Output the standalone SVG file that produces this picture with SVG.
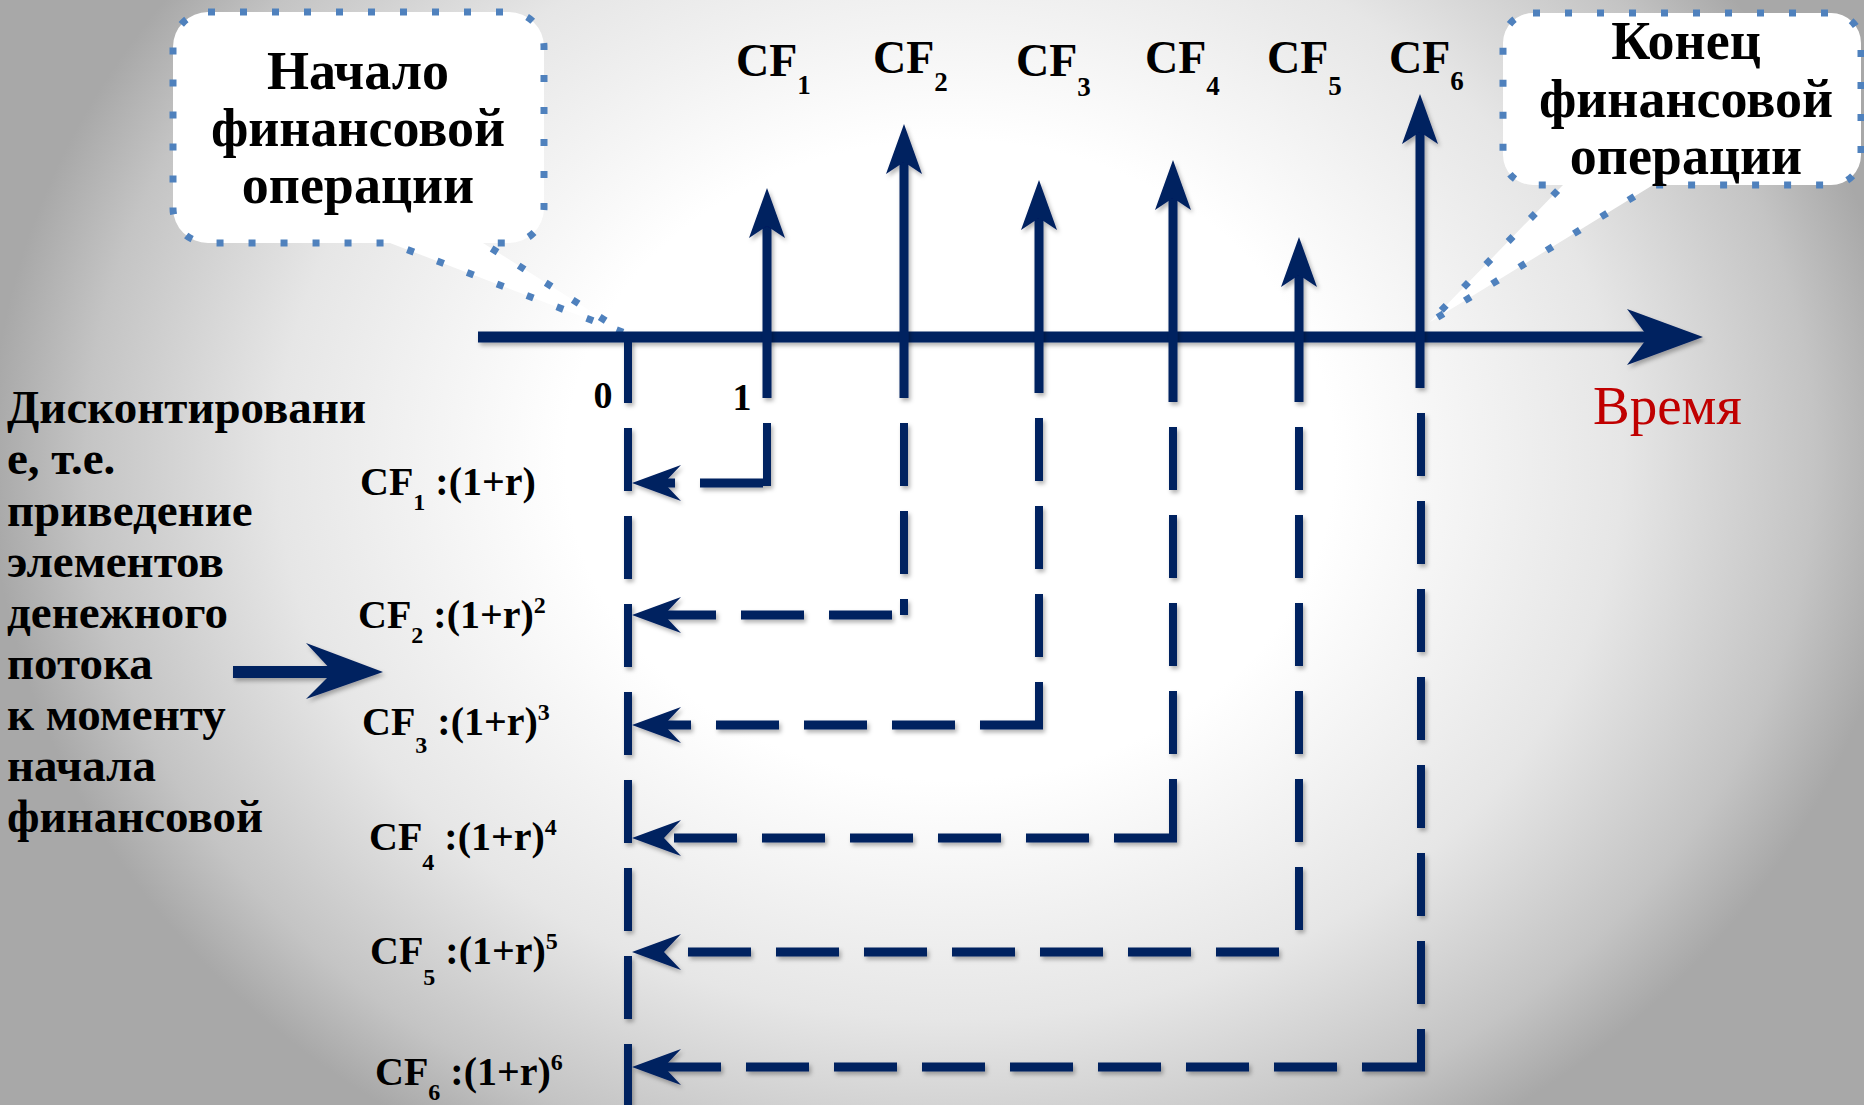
<svg xmlns="http://www.w3.org/2000/svg" width="1864" height="1105" viewBox="0 0 1864 1105">
<defs>
<radialGradient id="bg" gradientUnits="userSpaceOnUse" cx="0" cy="0" r="1" gradientTransform="translate(950,460) scale(960,800)">
<stop offset="0" stop-color="#ffffff"/>
<stop offset="0.4" stop-color="#ffffff"/>
<stop offset="0.7" stop-color="#e6e6e6"/>
<stop offset="0.9" stop-color="#c4c4c4"/>
<stop offset="1" stop-color="#a8a8a8"/>
</radialGradient>
<filter id="sh" filterUnits="userSpaceOnUse" x="0" y="0" width="1864" height="1105">
<feDropShadow dx="2" dy="3" stdDeviation="2" flood-color="#000" flood-opacity="0.3"/>
</filter>
<style>
.t{font-family:"Liberation Serif","DejaVu Serif",serif;font-weight:bold;fill:#000}
.call{fill:#fff;stroke:#4F81BD;stroke-width:7;stroke-dasharray:7 25}
.co{font-size:54px;text-anchor:middle}
.cf{font-size:46px}
.cfs{font-size:27px}
.f{font-size:40px}
.fs{font-size:24px}
.ex{font-size:47px}
.nv{fill:#002060}
.shaft{stroke:#002060;stroke-width:9;fill:none}
.vd{stroke:#002060;stroke-width:8;fill:none;stroke-dasharray:63 25}
.hd{stroke:#002060;stroke-width:9;fill:none;stroke-dasharray:63 25}
</style>
</defs>
<rect width="1864" height="1105" fill="url(#bg)"/>

<g id="callout-start">
<path class="call" d="M208,12 H509 A35,35 0 0 1 544,47 V208 A35,35 0 0 1 509,243 H483 L625,333 L390,243 H208 A35,35 0 0 1 173,208 V47 A35,35 0 0 1 208,12 Z"/>
<text class="t co" x="358" y="89">Начало</text>
<text class="t co" x="358" y="146">финансовой</text>
<text class="t co" x="358" y="203">операции</text>
</g>

<g id="callout-end">
<path class="call" d="M1533,13 H1831 A30,30 0 0 1 1861,43 V155 A30,30 0 0 1 1831,185 H1653 L1430,322 L1563,185 H1533 A30,30 0 0 1 1503,155 V43 A30,30 0 0 1 1533,13 Z"/>
<text class="t co" x="1686" y="59">Конец</text>
<text class="t co" x="1686" y="117">финансовой</text>
<text class="t co" x="1686" y="174">операции</text>
</g>

<g id="axis" filter="url(#sh)">
<line x1="478" y1="337" x2="1660" y2="337" stroke="#002060" stroke-width="11"/>
<polygon class="nv" points="1703,337 1627,309 1648,337 1627,365"/>
</g>
<text id="label-time" x="1593" y="424" font-family="Liberation Serif, DejaVu Serif, serif" font-size="55" fill="#C00000">Время</text>
<text id="label-0" class="t" x="603" y="408" font-size="38" text-anchor="middle">0</text>
<text id="label-1" class="t" x="742" y="410" font-size="38" text-anchor="middle">1</text>

<g id="cf1">
<text class="t cf" x="736" y="76">CF<tspan class="cfs" dy="18">1</tspan></text>
<g filter="url(#sh)"><line class="shaft" x1="767" y1="220" x2="767" y2="398"/><polygon class="nv" points="767,188 749,238 767,226 785,238"/></g>
</g>
<g id="cf2">
<text class="t cf" x="873" y="73">CF<tspan class="cfs" dy="18">2</tspan></text>
<g filter="url(#sh)"><line class="shaft" x1="904" y1="156" x2="904" y2="398"/><polygon class="nv" points="904,124 886,174 904,162 922,174"/></g>
</g>
<g id="cf3">
<text class="t cf" x="1016" y="76">CF<tspan class="cfs" dy="20">3</tspan></text>
<g filter="url(#sh)"><line class="shaft" x1="1039" y1="212" x2="1039" y2="393"/><polygon class="nv" points="1039,180 1021,230 1039,218 1057,230"/></g>
</g>
<g id="cf4">
<text class="t cf" x="1145" y="73">CF<tspan class="cfs" dy="22">4</tspan></text>
<g filter="url(#sh)"><line class="shaft" x1="1173" y1="192" x2="1173" y2="402"/><polygon class="nv" points="1173,160 1155,210 1173,198 1191,210"/></g>
</g>
<g id="cf5">
<text class="t cf" x="1267" y="73">CF<tspan class="cfs" dy="22">5</tspan></text>
<g filter="url(#sh)"><line class="shaft" x1="1299" y1="269" x2="1299" y2="402"/><polygon class="nv" points="1299,237 1281,287 1299,275 1317,287"/></g>
</g>
<g id="cf6">
<text class="t cf" x="1389" y="73">CF<tspan class="cfs" dy="17">6</tspan></text>
<g filter="url(#sh)"><line class="shaft" x1="1420" y1="126" x2="1420" y2="388"/><polygon class="nv" points="1420,94 1402,144 1420,132 1438,144"/></g>
</g>

<g id="disc1"><text class="t f" x="360" y="495">CF<tspan class="fs" dy="15">1</tspan><tspan dy="-15"> :(1+r)</tspan></text></g>
<g id="disc2"><text class="t f" x="358" y="628">CF<tspan class="fs" dy="15">2</tspan><tspan dy="-15"> :(1+r)</tspan><tspan class="fs" dy="-15">2</tspan></text></g>
<g id="disc3"><text class="t f" x="362" y="735">CF<tspan class="fs" dy="18">3</tspan><tspan dy="-18"> :(1+r)</tspan><tspan class="fs" dy="-15">3</tspan></text></g>
<g id="disc4"><text class="t f" x="369" y="850">CF<tspan class="fs" dy="20">4</tspan><tspan dy="-20"> :(1+r)</tspan><tspan class="fs" dy="-15">4</tspan></text></g>
<g id="disc5"><text class="t f" x="370" y="964">CF<tspan class="fs" dy="21">5</tspan><tspan dy="-21"> :(1+r)</tspan><tspan class="fs" dy="-15">5</tspan></text></g>
<g id="disc6"><text class="t f" x="375" y="1085">CF<tspan class="fs" dy="15">6</tspan><tspan dy="-15"> :(1+r)</tspan><tspan class="fs" dy="-15">6</tspan></text></g>

<g id="explanation">
<text class="t ex" x="7" y="423">Дисконтировани</text>
<text class="t ex" x="7" y="474">е, т.е.</text>
<text class="t ex" x="7" y="526">приведение</text>
<text class="t ex" x="7" y="577">элементов</text>
<text class="t ex" x="7" y="628">денежного</text>
<text class="t ex" x="7" y="679">потока</text>
<text class="t ex" x="7" y="730">к моменту</text>
<text class="t ex" x="7" y="781">начала</text>
<text class="t ex" x="7" y="832">финансовой</text>
<g filter="url(#sh)">
<line x1="233" y1="672" x2="335" y2="672" stroke="#002060" stroke-width="12"/>
<polygon class="nv" points="383,672 306,643 333,672 306,699"/>
</g>
</g>

<g id="connectors" filter="url(#sh)">
<path class="vd" d="M628,340 V1108"/>
<path class="vd" d="M767,423 V487"/>
<path class="vd" d="M904,423 V615"/>
<path class="vd" d="M1039,418 V729"/>
<path class="vd" d="M1173,427 V842"/>
<path class="vd" d="M1299,427 V930"/>
<path class="vd" d="M1421,413 V1071"/>
<path class="hd" d="M763,483 H660"/>
<path class="hd" d="M892,615 H660"/>
<path class="hd" d="M1043,725 H660"/>
<path class="hd" d="M1177,838 H660"/>
<path class="hd" d="M1279,952 H660"/>
<path class="hd" d="M1425,1067 H660"/>
<polygon class="nv" points="632,483 681,465 664,483 681,501"/>
<polygon class="nv" points="632,615 681,597 664,615 681,633"/>
<polygon class="nv" points="632,725 681,707 664,725 681,743"/>
<polygon class="nv" points="632,838 681,820 664,838 681,856"/>
<polygon class="nv" points="632,952 681,934 664,952 681,970"/>
<polygon class="nv" points="632,1067 681,1049 664,1067 681,1085"/>
</g>
</svg>
